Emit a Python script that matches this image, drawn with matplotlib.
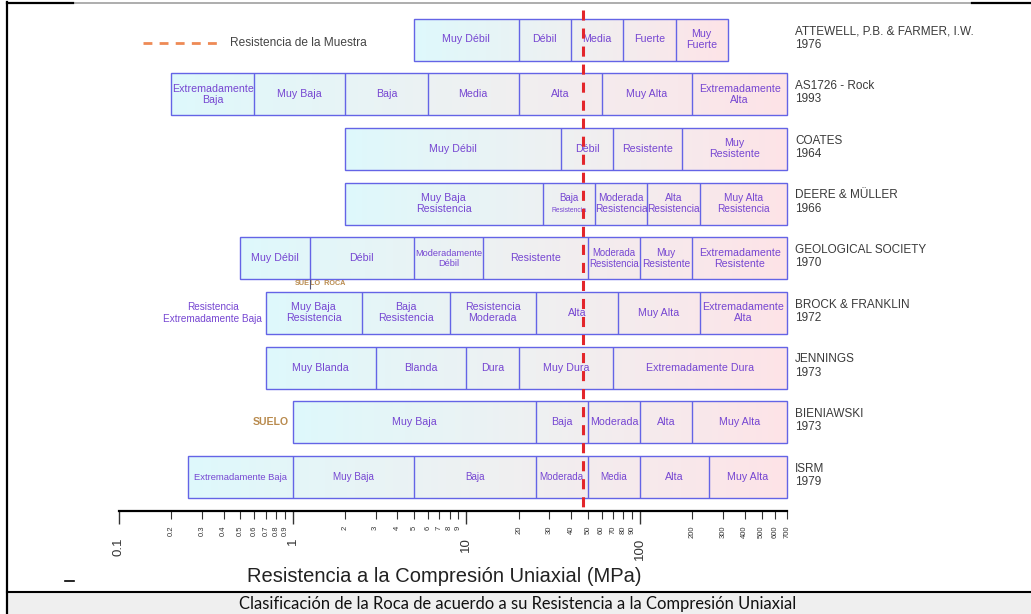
import numpy as np
import matplotlib
matplotlib.use("Agg")
import matplotlib.pyplot as plt
from matplotlib.colors import LinearSegmentedColormap
from matplotlib.patches import Rectangle
from matplotlib import transforms

plt.rcParams["font.family"] = ["Liberation Sans", "DejaVu Sans"]

# ---- data ----------------------------------------------------------------
row_names = ["ATTEWELL, P.B. & FARMER, I.W.", "AS1726 - Rock", "COATES",
             "DEERE & MÜLLER", "GEOLOGICAL SOCIETY", "BROCK & FRANKLIN",
             "JENNINGS", "BIENIAWSKI", "ISRM"]
row_years = ["1976", "1993", "1964", "1966", "1970", "1972", "1973", "1973", "1979"]

attewell_bounds = [5, 20, 40, 80, 160, 320]
attewell_labels = ["Muy Débil", "Débil", "Media", "Fuerte", "Muy\nFuerte"]
as1726_bounds = [0.2, 0.6, 2, 6, 20, 60, 200, 700]
as1726_labels = ["Extremadamente\nBaja", "Muy Baja", "Baja", "Media", "Alta",
                 "Muy Alta", "Extremadamente\nAlta"]
coates_bounds = [2, 35, 70, 175, 700]
coates_labels = ["Muy Débil", "Débil", "Resistente", "Muy\nResistente"]
deere_bounds = [2, 27.5, 55, 110, 220, 700]
deere_labels = ["Muy Baja\nResistencia", "Baja\nResistencia", "Moderada\nResistencia",
                "Alta\nResistencia", "Muy Alta\nResistencia"]
geosoc_bounds = [0.5, 1.25, 5, 12.5, 50, 100, 200, 700]
geosoc_labels = ["Muy Débil", "Débil", "Moderadamente\nDébil", "Resistente",
                 "Moderada\nResistencia", "Muy\nResistente", "Extremadamente\nResistente"]
brock_bounds = [0.7, 2.5, 8, 25, 75, 220, 700]
brock_labels = ["Muy Baja\nResistencia", "Baja\nResistencia", "Resistencia\nModerada",
                "Alta", "Muy Alta", "Extremadamente\nAlta"]
jennings_bounds = [0.7, 3, 10, 20, 70, 700]
jennings_labels = ["Muy Blanda", "Blanda", "Dura", "Muy Dura", "Extremadamente Dura"]
bieniawski_bounds = [1, 25, 50, 100, 200, 700]
bieniawski_labels = ["Muy Baja", "Baja", "Moderada", "Alta", "Muy Alta"]
isrm_bounds = [0.25, 1, 5, 25, 50, 100, 250, 700]
isrm_labels = ["Extremadamente Baja", "Muy Baja", "Baja", "Moderada", "Media",
               "Alta", "Muy Alta"]

sample_strength = 47  # MPa
suelo_roca_limit = 1.25

major_ticks = [0.1, 1, 10, 100]
minor_ticks = [0.2, 0.3, 0.4, 0.5, 0.6, 0.7, 0.8, 0.9,
               2, 3, 4, 5, 6, 7, 8, 9,
               20, 30, 40, 50, 60, 70, 80, 90,
               200, 300, 400, 500, 600, 700]
major_tick_labels = ["0.1", "1", "10", "100"]
minor_tick_labels = [str(v) for v in minor_ticks]

rows_bounds = [attewell_bounds, as1726_bounds, coates_bounds, deere_bounds,
               geosoc_bounds, brock_bounds, jennings_bounds, bieniawski_bounds,
               isrm_bounds]
rows_labels = [attewell_labels, as1726_labels, coates_labels, deere_labels,
               geosoc_labels, brock_labels, jennings_labels, bieniawski_labels,
               isrm_labels]

# label font sizes (style)
rows_fs = [[7] * 5, [7] * 7, [7] * 4, [7, None, 6.7, 6.7, 6.7],
           [7, 7, 6.1, 7, 6.4, 6.7, 7], [7] * 6, [7] * 5, [7] * 5,
           [6.2, 6.5, 6.5, 6.5, 6.5, 7, 7]]
FS_SCALE = 1.09

# ---- layout ----------------------------------------------------------------
W, H = 1031, 614
PX_DEC = 173.7          # pixels per decade
PX_01 = 119             # pixel of 0.1 MPa
ROW_PX, ROW0_PX = 54.69, 39.5
BOX_H = 42 / ROW_PX
AXIS_Y = (511 - ROW0_PX) / ROW_PX

EDGE = "#6464e6"
TXT = "#7646d2"
GRAY = "#3a3a3a"
cmap = LinearSegmentedColormap.from_list("cp", ["#def8fb", "#eef0f1", "#fde3e7"])

fig = plt.figure(figsize=(W / 100, H / 100), dpi=100)

# frame / page decoration in pixel coordinates
fax = fig.add_axes([0, 0, 1, 1])
fax.set_xlim(0, W); fax.set_ylim(H, 0); fax.axis("off")
fax.add_patch(Rectangle((8, 592), W, 30, facecolor="#efefef", edgecolor="none"))
fax.plot([7, W], [3, 3], color="#a0a0a0", lw=1.2)
fax.plot([7, 73], [3, 3], color="black", lw=1.6)
fax.plot([972, W], [3, 3], color="black", lw=1.6)
fax.plot([7, 7], [2, H], color="black", lw=1.6)
fax.plot([7, W], [591.5, 591.5], color="black", lw=1.5)
fax.plot([65, 74], [581, 581], color="black", lw=1.2)
fax.plot([143, 219], [43, 43], color="#ee8a55", lw=2, dashes=(3.2, 2.6))
fax.text(230, 43, "Resistencia de la Muestra", fontsize=8.6, color="#444444",
         va="center", ha="left")
fax.text(444, 577, "Resistencia a la Compresión Uniaxial (MPa)", fontsize=14.5,
         color="#222222", ha="center", va="center")
fax.text(518, 604, "Clasificación de la Roca de acuerdo a su Resistencia a la Compresión Uniaxial",
         fontsize=11.9, family=["Lato", "DejaVu Sans"], color="#111111",
         ha="center", va="center")

# main chart
ax = fig.add_axes([0, 0, 1, 1], zorder=2)
ax.patch.set_visible(False)
ax.set_xscale("log")
ax.set_xlim(10 ** (-1 - PX_01 / PX_DEC), 10 ** (-1 + (W - PX_01) / PX_DEC))
ax.set_ylim((H - ROW0_PX) / ROW_PX, -ROW0_PX / ROW_PX)

for i, (bounds, labels, fss) in enumerate(zip(rows_bounds, rows_labels, rows_fs)):
    y0, y1 = i - BOX_H / 2, i + BOX_H / 2
    xs = np.geomspace(bounds[0], bounds[-1], 80)
    ax.pcolormesh(xs, [y0, y1], np.linspace(0, 1, 79)[None, :], cmap=cmap,
                  shading="flat", zorder=1, rasterized=True)
    ax.add_patch(Rectangle((bounds[0], y0), bounds[-1] - bounds[0], BOX_H,
                           facecolor="none", edgecolor=EDGE, lw=1.0, zorder=3))
    ax.vlines(bounds[1:-1], y0, y1, color=EDGE, lw=1.0, zorder=3)
    for a, b, lab, fs in zip(bounds[:-1], bounds[1:], labels, fss):
        xc = np.sqrt(a * b)
        if fs is None:
            word, rest = lab.split("\n")
            ax.text(xc, i - 0.1, word, fontsize=7, color=TXT, ha="center", va="center", zorder=4)
            ax.text(xc, i + 0.12, rest, fontsize=4.9, color=TXT, ha="center", va="center", zorder=4)
        else:
            ax.text(xc, i, lab, fontsize=fs * FS_SCALE, color=TXT, ha="center",
                    va="center", linespacing=1.12, zorder=4)

# row titles on the right
tr = transforms.blended_transform_factory(ax.transAxes, ax.transData)
for i, (name, year) in enumerate(zip(row_names, row_years)):
    ax.text(795 / W, i - 0.03, name + "\n" + year, transform=tr, fontsize=8.5,
            color=GRAY, ha="left", va="center", linespacing=1.15)

# extra annotations
ax.text(10 ** (-1 + (262 - PX_01) / PX_DEC), 5, "Resistencia\nExtremadamente Baja",
        fontsize=7.2, color=TXT, ha="right", va="center", multialignment="center",
        linespacing=1.15)
ax.text(10 ** (-1 + (289 - PX_01) / PX_DEC), 7, "SUELO", fontsize=7.6, color="#b98b4e",
        fontweight="bold", ha="right", va="center")
soil_y = 4 + BOX_H / 2 + 0.08
ax.text(suelo_roca_limit, soil_y, "SUE", fontsize=5.2, color="#b98b4e",
        fontweight="bold", ha="right", va="center")
ax.text(suelo_roca_limit, soil_y, "LO  ROCA", fontsize=5.2, color="#b98b4e",
        fontweight="bold", ha="left", va="center")
ax.vlines(suelo_roca_limit, 4 + BOX_H / 2, soil_y + 0.1, color="#555577", lw=0.8, zorder=3)

# sample strength line
ax.vlines(sample_strength, -0.54, AXIS_Y, color="#e3262b", lw=2.2,
          linestyles=(0, (3.3, 2.6)), zorder=5)

# strength axis
for s in ["top", "left", "right"]:
    ax.spines[s].set_visible(False)
ax.spines["bottom"].set_position(("data", AXIS_Y))
ax.spines["bottom"].set_bounds(0.1, 700)
ax.spines["bottom"].set_linewidth(1.6)
ax.spines["bottom"].set_zorder(6)
ax.set_yticks([])
ax.set_xticks(major_ticks)
ax.set_xticklabels(major_tick_labels, rotation=90, fontsize=9.5)
ax.set_xticks(minor_ticks, minor=True)
ax.set_xticklabels(minor_tick_labels, minor=True, rotation=90, fontsize=5.5)
ax.tick_params(axis="x", which="major", length=9, width=1.0, pad=10, colors="#333333")
ax.tick_params(axis="x", which="minor", length=5.5, width=0.8, pad=5, colors="#333333")

plt.savefig("out.png", dpi=100)
plt.close()
